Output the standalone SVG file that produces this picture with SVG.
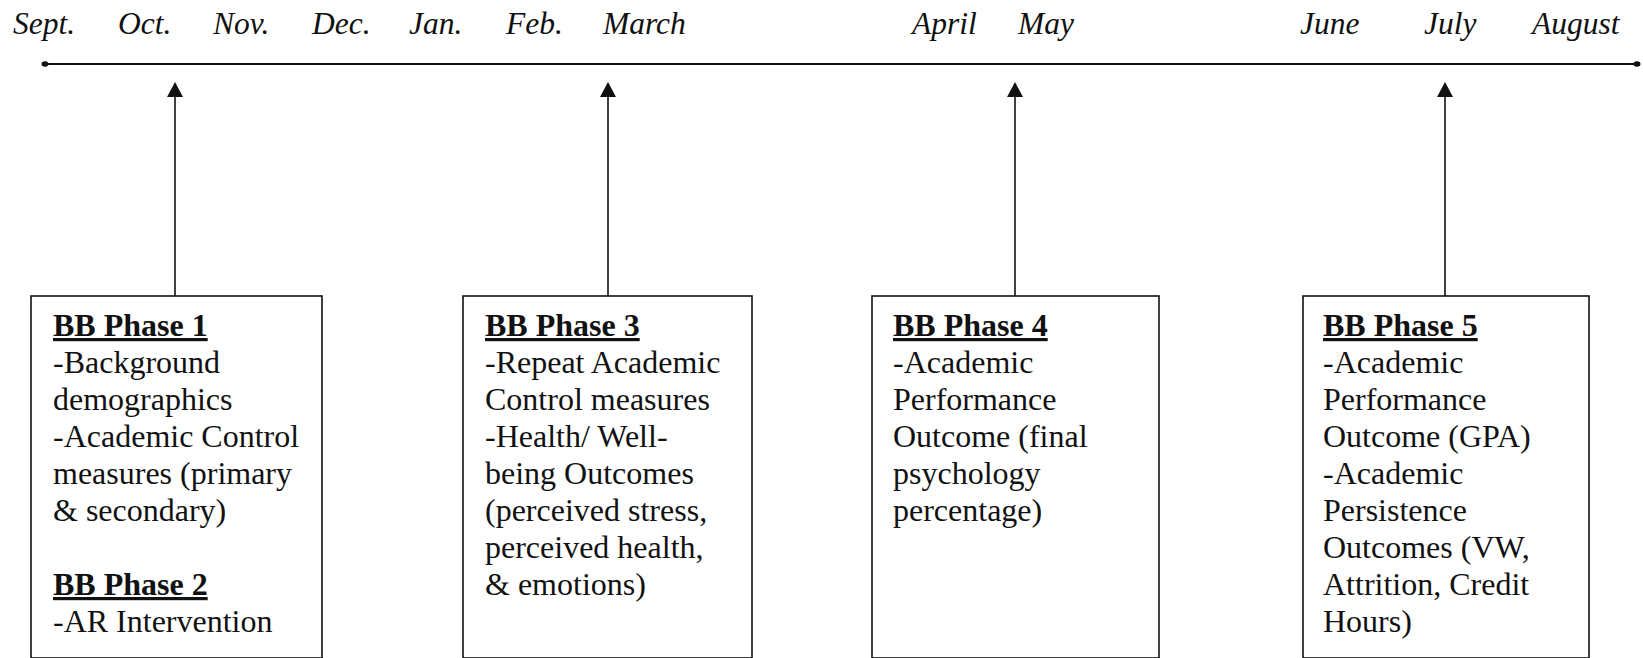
<svg xmlns="http://www.w3.org/2000/svg" width="1643" height="658" viewBox="0 0 1643 658">
  <style>
    .month { font-family: "Liberation Serif", serif; font-style: italic; font-size: 31.5px; fill: #111; }
    .body { font-family: "Liberation Serif", serif; font-size: 32px; fill: #111; }
    .head { font-weight: bold; text-decoration: underline; }
    .box { fill: #fff; stroke: #111; stroke-width: 1.6; }
    .conn { stroke: #111; stroke-width: 1.6; fill: none; }
    .head-tip { fill: #111; }
    .axis { stroke: #111; stroke-width: 2; fill: none; }
  </style>

  <rect width="1643" height="658" fill="#fff"/>

  <!-- month labels along the academic year -->
  <g id="months">
    <text class="month" x="13" y="34">Sept.</text>
    <text class="month" x="118" y="34">Oct.</text>
    <text class="month" x="213" y="34">Nov.</text>
    <text class="month" x="312" y="34">Dec.</text>
    <text class="month" x="409" y="34">Jan.</text>
    <text class="month" x="506" y="34">Feb.</text>
    <text class="month" x="603" y="34">March</text>
    <text class="month" x="912" y="34">April</text>
    <text class="month" x="1018" y="34">May</text>
    <text class="month" x="1300" y="34">June</text>
    <text class="month" x="1424" y="34">July</text>
    <text class="month" x="1532" y="34">August</text>
  </g>

  <!-- timeline axis -->
  <g id="timeline">
    <line class="axis" x1="45" y1="64" x2="1637" y2="64"/>
    <ellipse cx="45" cy="64" rx="3.5" ry="2.8" fill="#111"/>
    <ellipse cx="1637" cy="64" rx="3.5" ry="2.8" fill="#111"/>
  </g>

  <!-- connectors from each phase box up to the timeline -->
  <g id="connectors">
    <line class="conn" x1="175" y1="296" x2="175" y2="96"/>
    <polygon class="head-tip" points="175,82 167,97 183,97"/>
    <line class="conn" x1="608" y1="296" x2="608" y2="96"/>
    <polygon class="head-tip" points="608,82 600,97 616,97"/>
    <line class="conn" x1="1015" y1="296" x2="1015" y2="96"/>
    <polygon class="head-tip" points="1015,82 1007,97 1023,97"/>
    <line class="conn" x1="1445" y1="296" x2="1445" y2="96"/>
    <polygon class="head-tip" points="1445,82 1437,97 1453,97"/>
  </g>

  <g id="phase1-2">
    <rect class="box" x="31" y="296" width="291" height="362"/>
    <text class="body">
      <tspan class="head" x="53" y="336">BB Phase 1</tspan>
      <tspan x="53" y="373">-Background</tspan>
      <tspan x="53" y="410">demographics</tspan>
      <tspan x="53" y="447">-Academic Control</tspan>
      <tspan x="53" y="484">measures (primary</tspan>
      <tspan x="53" y="521">&amp; secondary)</tspan>
      <tspan class="head" x="53" y="595">BB Phase 2</tspan>
      <tspan x="53" y="632">-AR Intervention</tspan>
    </text>
  </g>

  <g id="phase3">
    <rect class="box" x="463" y="296" width="289" height="362"/>
    <text class="body">
      <tspan class="head" x="485" y="336">BB Phase 3</tspan>
      <tspan x="485" y="373">-Repeat Academic</tspan>
      <tspan x="485" y="410">Control measures</tspan>
      <tspan x="485" y="447">-Health/ Well-</tspan>
      <tspan x="485" y="484">being Outcomes</tspan>
      <tspan x="485" y="521">(perceived stress,</tspan>
      <tspan x="485" y="558">perceived health,</tspan>
      <tspan x="485" y="595">&amp; emotions)</tspan>
    </text>
  </g>

  <g id="phase4">
    <rect class="box" x="872" y="296" width="287" height="362"/>
    <text class="body">
      <tspan class="head" x="893" y="336">BB Phase 4</tspan>
      <tspan x="893" y="373">-Academic</tspan>
      <tspan x="893" y="410">Performance</tspan>
      <tspan x="893" y="447">Outcome (final</tspan>
      <tspan x="893" y="484">psychology</tspan>
      <tspan x="893" y="521">percentage)</tspan>
    </text>
  </g>

  <g id="phase5">
    <rect class="box" x="1303" y="296" width="286" height="362"/>
    <text class="body">
      <tspan class="head" x="1323" y="336">BB Phase 5</tspan>
      <tspan x="1323" y="373">-Academic</tspan>
      <tspan x="1323" y="410">Performance</tspan>
      <tspan x="1323" y="447">Outcome (GPA)</tspan>
      <tspan x="1323" y="484">-Academic</tspan>
      <tspan x="1323" y="521">Persistence</tspan>
      <tspan x="1323" y="558">Outcomes (VW,</tspan>
      <tspan x="1323" y="595">Attrition, Credit</tspan>
      <tspan x="1323" y="632">Hours)</tspan>
    </text>
  </g>
</svg>
